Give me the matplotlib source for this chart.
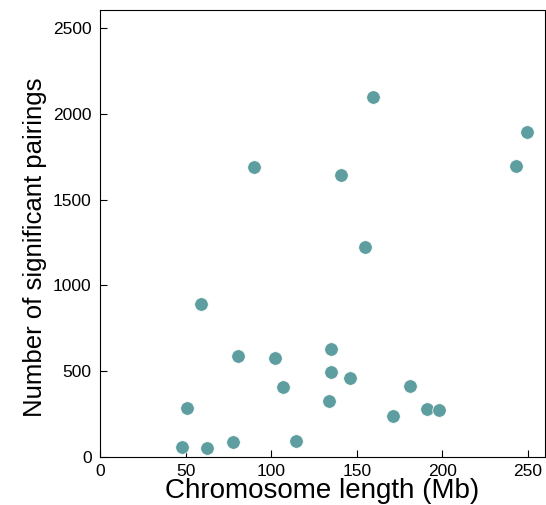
import matplotlib
matplotlib.use("Agg")
import matplotlib.pyplot as plt

plt.rcParams['font.family'] = ['Liberation Sans', 'DejaVu Sans']

# chromosome length (Mb) vs number of significant pairings
length_mb = [159.3, 249.4, 90.0, 243.2, 141.0, 154.9, 58.8, 135.2, 80.8, 102.2,
             134.8, 146.2, 107.1, 180.9, 50.9, 133.6, 170.9, 191.2, 198.0,
             47.7, 62.6, 77.7, 114.8]
pairings = [2099, 1894, 1688, 1698, 1646, 1223, 893, 632, 586, 576,
            496, 463, 407, 415, 288, 325, 238, 278, 271,
            61, 51, 88, 96]

fig = plt.figure(figsize=(5.46, 5.05), dpi=100)
ax = fig.add_axes([100/546, 48/505, 445/546, 447/505])
ax.scatter(length_mb, pairings, s=95, color='#5f9ea0', edgecolors='white',
           linewidths=0.5, zorder=3)

ax.set_xlim(0, 260)
ax.set_ylim(0, 2605)
ax.set_xticks([0, 50, 100, 150, 200, 250])
ax.set_yticks([0, 500, 1000, 1500, 2000, 2500])
ax.tick_params(direction='in', length=5, labelsize=12.5)
ax.tick_params(axis='x', pad=5)
ax.tick_params(axis='y', pad=6)
ax.set_xlabel('Chromosome length (Mb)', fontsize=20, labelpad=-0.5)
ax.set_ylabel('Number of significant pairings', fontsize=18.5, labelpad=4)
ax.yaxis.label.set_y(0.47)

fig.savefig('out.png', dpi=100)
